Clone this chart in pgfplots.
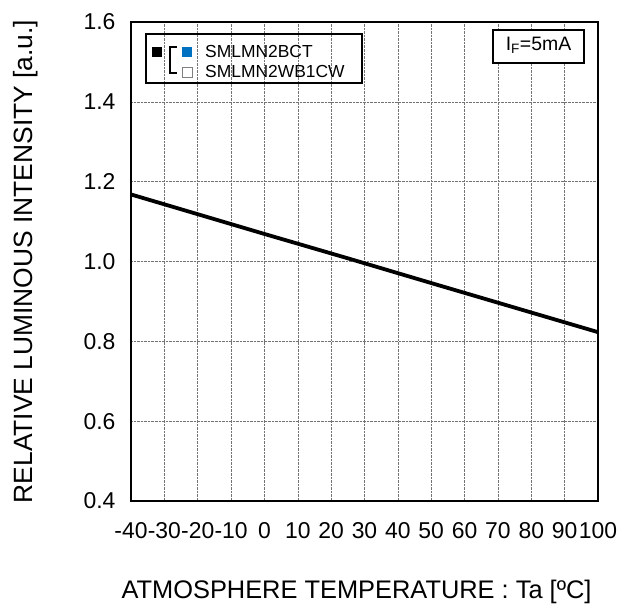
\documentclass[border=0pt]{standalone}
\usepackage{fontspec}
\setmainfont{Liberation Sans}
\usepackage{pgfplots}
\pgfplotsset{compat=1.18}
\definecolor{legblue}{RGB}{0,112,192}

\begin{document}
\begin{tikzpicture}
\useasboundingbox (-131bp,-114bp) rectangle (497bp,501bp);
\begin{axis}[
name=ax,
at={(0,0)}, anchor=south west,
scale only axis,
width=467bp, height=479bp,
xmin=-40, xmax=100,
ymin=0.4, ymax=1.6,
xtick={-40,-30,-20,-10,0,10,20,30,40,50,60,70,80,90,100},
xticklabels={-40,-30,-20,-10,0,10,20,30,40,50,60,70,80,90,100},
ytick={0.4,0.6,0.8,1.0,1.2,1.4,1.6},
yticklabels={0.4,0.6,0.8,1.0,1.2,1.4,1.6},
major tick length=0pt,
grid=major,
grid style={densely dotted, gray!90!black, line width=0.5bp},
axis line style={line width=2bp},
tick label style={font=\fontsize{23}{26}\selectfont},
xticklabel style={yshift=-18bp},
yticklabel style={xshift=-12bp},
xlabel={ATMOSPHERE TEMPERATURE : Ta [ºC]},
ylabel={RELATIVE LUMINOUS INTENSITY [a.u.]},
every axis x label/.style={at={(axis description cs:0.5,0)}, anchor=center, yshift=-91bp, xshift=-8bp, font=\fontsize{25.5}{28}\selectfont},
every axis y label/.style={at={(axis description cs:0,0.5)}, xshift=-105bp, anchor=center, rotate=90, font=\fontsize{26.5}{29}\selectfont},
]
\addplot[black, line width=3.8bp] coordinates {
(-40,1.168) (0,1.069) (25,1.008) (50,0.946) (100,0.823)
};
\end{axis}

% legend and condition box
\begin{scope}[shift={(ax.north west)}, x=1bp, y=1bp]
\draw[line width=1.2bp] (15,-12) rectangle (231,-61);
\fill[black] (21,-25) rectangle (31,-35);
\draw[line width=1.3bp] (46,-25) -- (39,-25) -- (39,-51) -- (46,-51);
\fill[legblue] (51,-25) rectangle (61,-35);
\draw[gray, line width=0.7bp, fill=white] (51,-45) rectangle (61,-55);
\node[anchor=west, inner sep=0, font=\fontsize{17.5}{20}\selectfont] at (74,-30) {SMLMN2BCT};
\node[anchor=west, inner sep=0, font=\fontsize{17.5}{20}\selectfont] at (74,-50) {SMLMN2WB1CW};
\draw[line width=1.2bp, fill=white] (362,-8) rectangle (453,-41);
\node[font=\fontsize{19.5}{22}\selectfont] at (407.5,-23) {I\textsubscript{F}=5mA};
\end{scope}
\end{tikzpicture}
\end{document}
